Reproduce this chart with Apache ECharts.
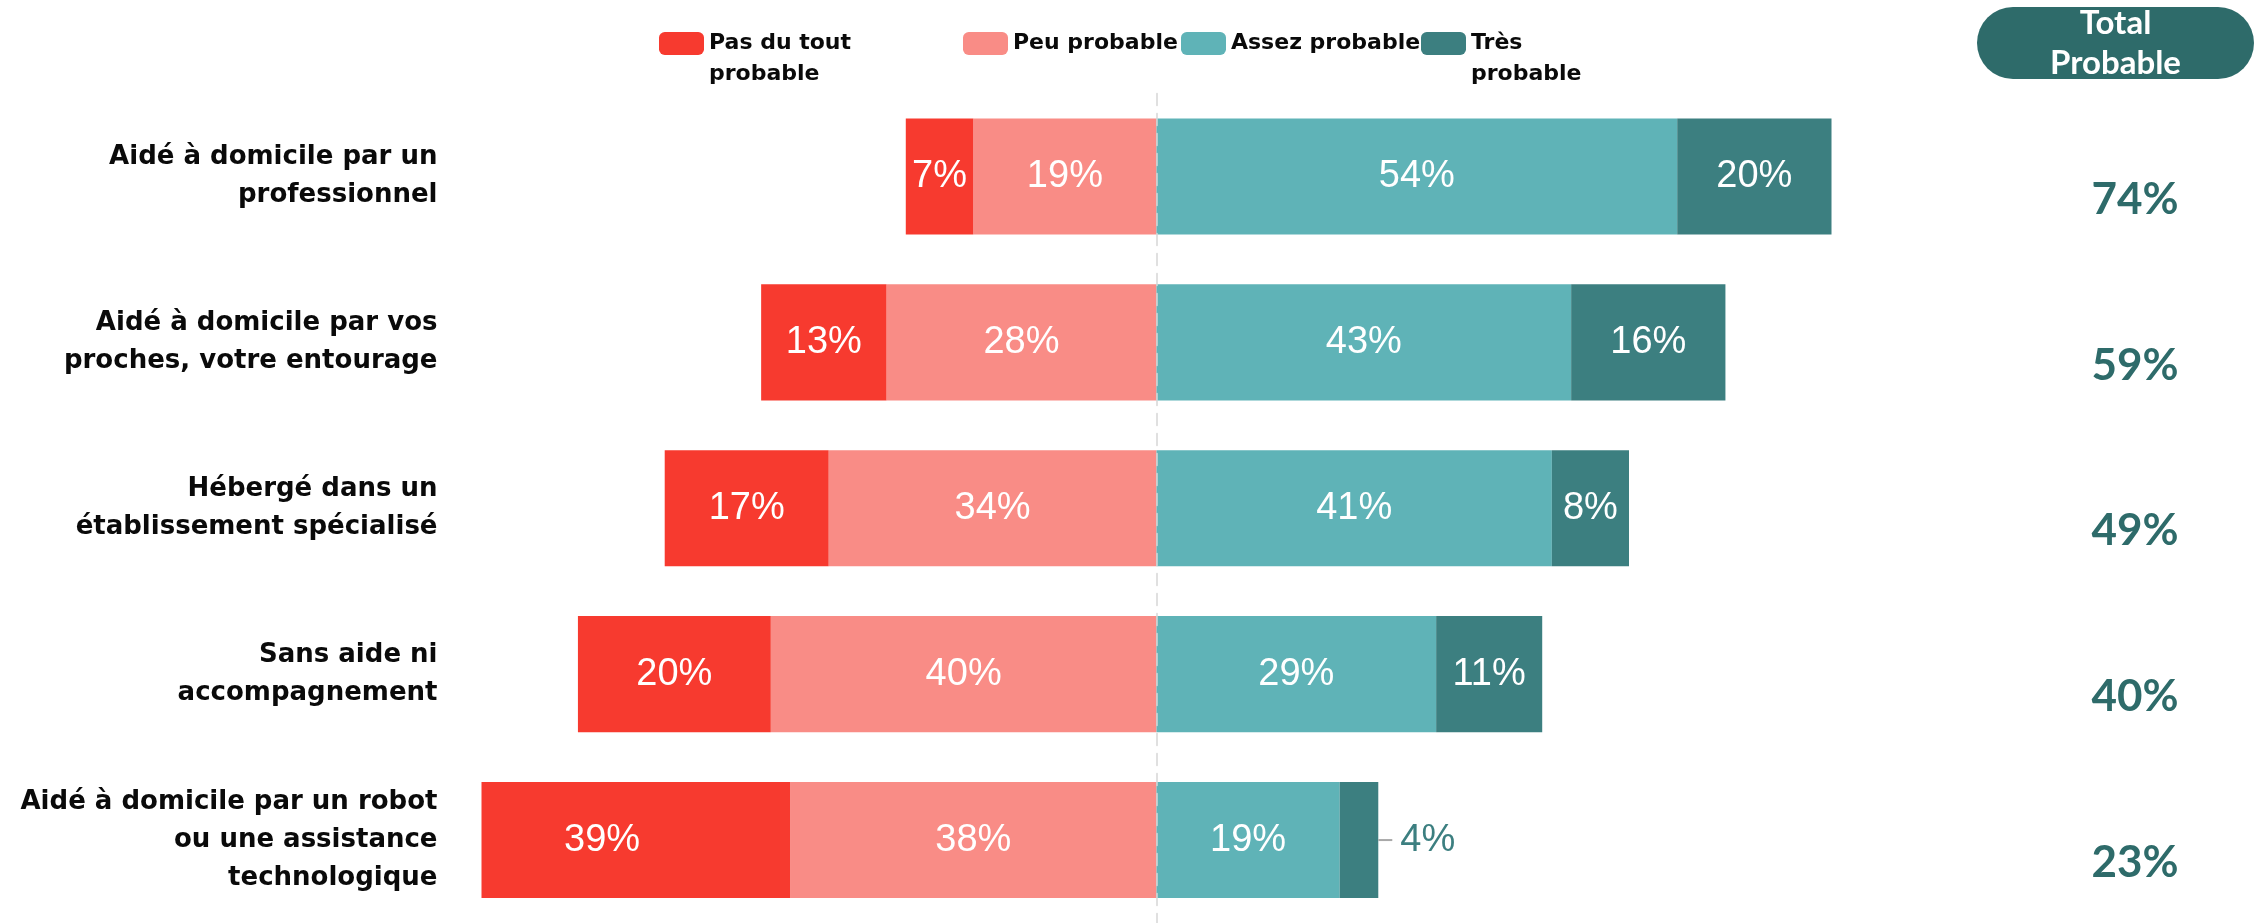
<!DOCTYPE html>
<html>
<head>
<meta charset="utf-8">
<script src="https://cdn.jsdelivr.net/npm/echarts@6/dist/echarts.min.js"></script>
<style>
  html, body { margin: 0; padding: 0; background: #ffffff; }
  #chart { width: 2265px; height: 923px; }
</style>
</head>
<body>
<div id="chart"></div>
<script>
// ---- Data ----
const categories = [
  'Aidé à domicile par un\nprofessionnel',
  'Aidé à domicile par vos\nproches, votre entourage',
  'Hébergé dans un\nétablissement spécialisé',
  'Sans aide ni\naccompagnement',
  'Aidé à domicile par un robot\nou une assistance\ntechnologique'
];
const seriesNames = ['Pas du tout probable', 'Peu probable', 'Assez probable', 'Très probable'];
const pasDuTout = [7, 13, 17, 20, 39];
const peuProbable = [19, 28, 34, 40, 38];
const assezProbable = [54, 43, 41, 29, 19];
const tresProbable = [20, 16, 8, 11, 4];
const totalHeader = 'Total\nProbable';
const axisMin = -70;
const axisMax = 70;

// ---- Styling ----
const COLORS = {
  pas: '#F73A2F',
  peu: '#F98C86',
  assez: '#5FB3B7',
  tres: '#3C7F80',
  header: '#2E6B6A',
  total: '#2E6B6A',
  text: '#0a0a0a'
};
const LABEL_FONT = 'DejaVu Sans';
const TOTAL_FONT = 'Lato';
const BAR_FONT = 'Liberation Sans';

const totals = assezProbable.map((v, i) => v + tresProbable[i]);

function barData(values, sign) {
  return values.map(v => {
    const item = { value: sign * v };
    if (v < 5) {
      item.label = {
        position: 'right',
        distance: 0,
        formatter: '{ln|}{v|' + v + '%}',
        rich: {
          ln: { width: 14, height: 2, backgroundColor: '#a8a8a8' },
          v: { color: COLORS.tres, fontSize: 38, fontFamily: BAR_FONT, padding: [0, 0, 0, 8] }
        }
      };
    }
    return item;
  });
}

const barLabel = {
  show: true,
  position: 'inside',
  color: '#ffffff',
  fontSize: 38,
  fontFamily: BAR_FONT,
  fontWeight: 'normal',
  formatter: p => Math.abs(p.value) + '%'
};

function makeSeries(name, values, sign, color) {
  return {
    name: name,
    type: 'bar',
    stack: 'total',
    barCategoryGap: '30%',
    clip: true,
    itemStyle: { color: color },
    label: barLabel,
    emphasis: { disabled: true },
    data: barData(values, sign)
  };
}

const chart = echarts.init(document.getElementById('chart'), null, { renderer: 'canvas' });

const LEGEND_LH = 31;
const legendCommon = {
  orient: 'horizontal',
  padding: 0,
  itemWidth: 45,
  itemHeight: 23,
  icon: 'roundRect',
  selectedMode: false,
  textStyle: { fontFamily: LABEL_FONT, fontWeight: 'bold', fontSize: 22, color: COLORS.text, lineHeight: LEGEND_LH }
};
function legendItem(name, left, iconTop, twoLines) {
  // two-line items get a leading empty line so the first text line sits beside the icon
  const boxH = (twoLines ? 3 : 1) * LEGEND_LH;
  const top = iconTop - (boxH / 2 - 23 / 2);
  return Object.assign({}, legendCommon, {
    left: left,
    top: top,
    data: [name],
    formatter: twoLines ? (n => '\n' + n.replace(/ (\S+)$/, '\n$1')) : (n => n)
  });
}

chart.setOption({
  animation: false,
  backgroundColor: '#ffffff',
  color: [COLORS.pas, COLORS.peu, COLORS.assez, COLORS.tres],
  legend: [
    legendItem(seriesNames[0], 659, 32, true),
    legendItem(seriesNames[1], 963, 32, false),
    legendItem(seriesNames[2], 1181, 32, false),
    legendItem(seriesNames[3], 1421, 32, true)
  ],
  grid: { left: 481.5, width: 1350, top: 93.6, height: 833.75, containLabel: false },
  xAxis: {
    type: 'value',
    min: axisMin,
    max: axisMax,
    show: false,
    splitLine: { show: false }
  },
  yAxis: [
    {
      type: 'category',
      inverse: true,
      data: categories,
      z: 5,
      axisTick: { show: false },
      axisLine: { show: true, onZero: true, lineStyle: { color: '#d6d6d6', width: 1.5, type: [12, 8] } },
      axisLabel: {
        interval: 0,
        margin: 44,
        align: 'right',
        fontFamily: LABEL_FONT,
        fontWeight: 'bold',
        fontSize: 26,
        lineHeight: 38,
        color: COLORS.text
      }
    },
    {
      type: 'category',
      inverse: true,
      position: 'right',
      data: totals.map(v => v + '%'),
      axisTick: { show: false },
      axisLine: { show: false },
      axisLabel: {
        interval: 0,
        margin: 303.5,
        align: 'center',
        fontFamily: TOTAL_FONT,
        fontWeight: 'bold',
        fontSize: 44,
        lineHeight: 46,
        color: COLORS.total,
        // leading empty line drops the total slightly below the bar centre
        formatter: v => '\n' + v
      }
    }
  ],
  series: [
    makeSeries(seriesNames[1], peuProbable, -1, COLORS.peu),
    makeSeries(seriesNames[0], pasDuTout, -1, COLORS.pas),
    makeSeries(seriesNames[2], assezProbable, 1, COLORS.assez),
    makeSeries(seriesNames[3], tresProbable, 1, COLORS.tres)
  ],
  graphic: [
    {
      type: 'rect',
      shape: { x: 1977, y: 7, width: 277, height: 72, r: 36 },
      style: { fill: COLORS.header },
      silent: true
    },
    {
      type: 'text',
      style: {
        text: totalHeader,
        x: 2115.5,
        y: 43,
        align: 'center',
        verticalAlign: 'middle',
        fill: '#ffffff',
        font: 'bold 33px Lato',
        lineHeight: 40
      },
      silent: true
    }
  ]
});

// Labels of bars cut by the axis minimum stay centred on the full (unclipped) bar,
// as in the reference; offset computed through the chart's own scale.
(function adjustClippedLabels() {
  const newData = pasDuTout.map((v, i) => {
    const inner = peuProbable[i];
    const outerEnd = -(inner + v);
    const item = { value: -v };
    if (outerEnd < axisMin) {
      const fullCenter = chart.convertToPixel({ gridIndex: 0 }, [(-inner + outerEnd) / 2, 0])[0];
      const clipCenter = chart.convertToPixel({ gridIndex: 0 }, [(-inner + axisMin) / 2, 0])[0];
      item.label = { offset: [fullCenter - clipCenter, 0] };
    }
    return item;
  });
  chart.setOption({ series: [{}, { data: newData }, {}, {}] });
})();
</script>
</body>
</html>
